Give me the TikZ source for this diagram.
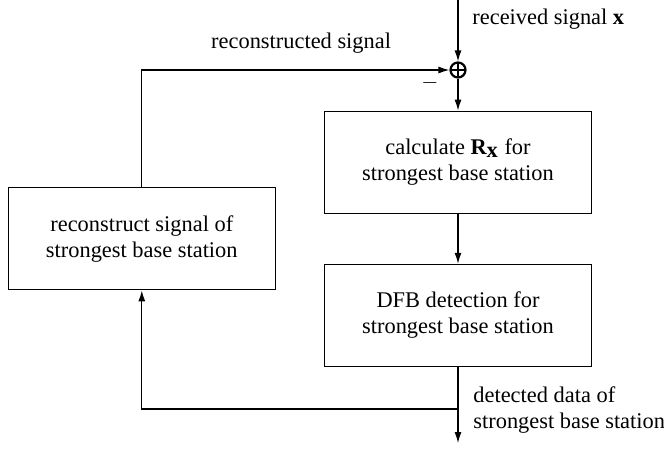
\documentclass[tikz,border=0pt]{standalone}
\usepackage{fontspec}
\setmainfont{Liberation Serif}
\usetikzlibrary{arrows.meta,positioning,calc}
\tikzset{
 box/.style={draw,line width=0.6pt,align=center,minimum width=133.5pt,minimum height=51pt,inner sep=2pt},
 sumnode/.style={circle,draw,line width=1.1pt,inner sep=0pt,minimum size=7.5pt,
  path picture={\draw[line width=1.1pt] (path picture bounding box.north)--(path picture bounding box.south)
   (path picture bounding box.west)--(path picture bounding box.east);}},
 lbl/.style={inner sep=0pt,align=left},
 arr/.style={-{Latex[length=5.5pt,width=3.5pt]},line width=0.6pt},
 wire/.style={line width=0.6pt}
}

\begin{document}
\begin{tikzpicture}[font=\fontsize{11.2}{13}\selectfont,node distance=16pt]
\useasboundingbox (0,0) rectangle (332pt,-225pt);
\node[sumnode] (sum) at (229pt,-35pt) {};
\coordinate[above=31pt of sum] (in);
\node[box,below=of sum] (calc) {calculate $\textbf{R}_{\textbf{x}}$ for\\strongest base station};
\node[box,below=25pt of calc] (dfb) {DFB detection for\\strongest base station};
\coordinate (mid) at ($(calc.west)!0.5!(dfb.west)$);
\node[box,anchor=east] (recon) at ([xshift=-24pt]mid) {reconstruct signal of\\strongest base station};
\coordinate[below=21pt of dfb] (tap);
\coordinate[below=38pt of dfb] (out);
% labels
\node[lbl,anchor=base west] (rxlbl) at ([xshift=7pt,yshift=-12.5pt]in) {received signal \textbf{x}};
\node[lbl,anchor=base east] (fblbl) at ([xshift=-29pt,yshift=11pt]sum.west) {reconstructed signal};
\node[lbl] (minus) at ([xshift=-9.75pt,yshift=-6.5pt]sum.west) {$-$};
\node[lbl,anchor=north west] (outlbl) at ([xshift=7.5pt,yshift=-9.5pt]dfb.south) {detected data of\\strongest base station};
% connectors
\draw[arr] (in) -- (sum);
\draw[arr] (sum) -- (calc);
\draw[arr] (calc) -- (dfb);
\draw[arr] (dfb) -- (out);
\draw[arr] (tap) -| (recon.south);
\draw[arr] (recon.north) |- (sum.west);
\end{tikzpicture}
\end{document}
